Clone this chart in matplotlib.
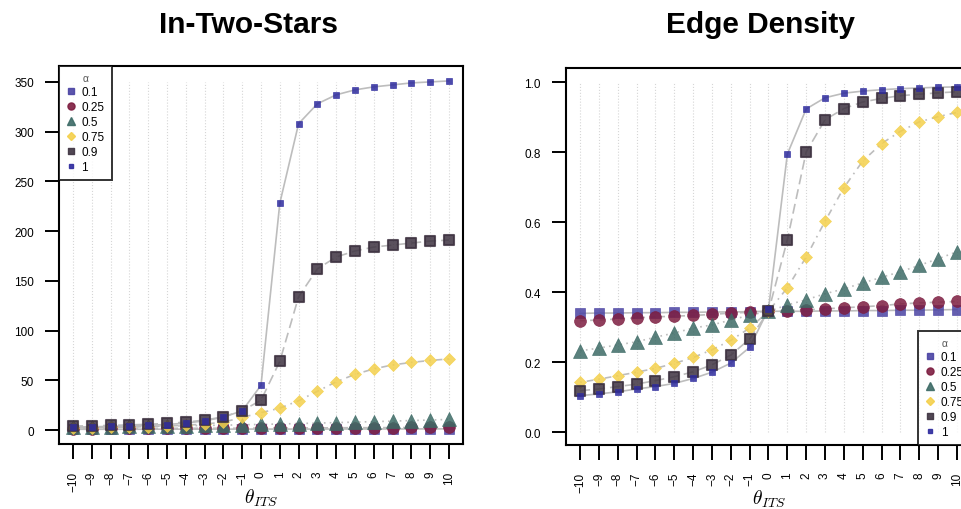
import matplotlib.pyplot as plt
from matplotlib.lines import Line2D
from matplotlib.markers import MarkerStyle

plt.rcParams['font.family'] = ['Liberation Sans', 'DejaVu Sans']
plt.rcParams['mathtext.fontset'] = 'cm'

# theta values and alpha levels
theta = [-10, -9, -8, -7, -6, -5, -4, -3, -2, -1, 0, 1, 2, 3, 4, 5, 6, 7, 8, 9, 10]
alpha_labels = ["0.1", "0.25", "0.5", "0.75", "0.9", "1"]

# In-Two-Stars, one list per alpha
its_a01 = [0.8, 0.8, 0.8, 0.8, 0.9, 0.9, 0.9, 0.9, 0.9, 1.0, 1.0, 1.0, 1.0, 1.0, 1.1, 1.1, 1.1, 1.1, 1.1, 1.2, 1.2]
its_a025 = [1.5, 1.5, 1.6, 1.6, 1.7, 1.7, 1.8, 1.8, 1.9, 1.9, 2.0, 2.1, 2.1, 2.2, 2.3, 2.4, 2.4, 2.5, 2.6, 2.7, 2.8]
its_a05 = [3.0, 3.2, 3.4, 3.6, 3.8, 4.0, 4.3, 4.6, 4.9, 5.3, 5.7, 6.1, 6.6, 7.0, 7.5, 8.0, 8.5, 9.0, 9.6, 10.1, 10.7]
its_a075 = [2.0, 2.3, 2.6, 3.0, 3.5, 4.1, 4.9, 6.0, 8.0, 12.7, 17.5, 22.0, 29.5, 39.0, 48.5, 56.0, 61.5, 65.5, 68.0, 70.0, 71.5]
its_a09 = [4.0, 4.3, 4.7, 5.2, 5.8, 6.7, 8.0, 10.0, 13.3, 19.5, 30.0, 69.0, 134.0, 162.0, 174.0, 180.0, 184.0, 186.0, 188.0, 190.0, 191.0]
its_a1 = [3.0, 3.3, 3.7, 4.2, 4.8, 5.6, 7.0, 9.3, 13.0, 19.4, 45.0, 228.0, 308.0, 328.0, 337.0, 342.0, 345.0, 347.0, 349.0, 350.0, 351.0]

# Edge density, one list per alpha
ed_a01 = [0.339, 0.340, 0.340, 0.341, 0.341, 0.342, 0.342, 0.343, 0.343, 0.344, 0.345, 0.345, 0.345, 0.346, 0.346, 0.347, 0.347, 0.348, 0.348, 0.349, 0.350]
ed_a025 = [0.318, 0.320, 0.323, 0.326, 0.329, 0.331, 0.333, 0.336, 0.340, 0.342, 0.345, 0.347, 0.349, 0.352, 0.355, 0.358, 0.361, 0.366, 0.369, 0.371, 0.373]
ed_a05 = [0.232, 0.240, 0.249, 0.258, 0.271, 0.283, 0.297, 0.306, 0.320, 0.334, 0.345, 0.363, 0.378, 0.395, 0.409, 0.426, 0.442, 0.458, 0.476, 0.495, 0.515]
ed_a075 = [0.142, 0.151, 0.161, 0.171, 0.182, 0.196, 0.213, 0.235, 0.262, 0.297, 0.345, 0.412, 0.500, 0.602, 0.698, 0.774, 0.824, 0.859, 0.886, 0.901, 0.913]
ed_a09 = [0.118, 0.123, 0.130, 0.137, 0.147, 0.158, 0.172, 0.192, 0.220, 0.266, 0.345, 0.549, 0.800, 0.892, 0.924, 0.943, 0.953, 0.961, 0.965, 0.969, 0.972]
ed_a1 = [0.104, 0.109, 0.115, 0.123, 0.130, 0.139, 0.153, 0.171, 0.197, 0.242, 0.351, 0.794, 0.923, 0.955, 0.968, 0.974, 0.978, 0.981, 0.983, 0.985, 0.986]

its_series = [its_a01, its_a025, its_a05, its_a075, its_a09, its_a1]
ed_series = [ed_a01, ed_a025, ed_a05, ed_a075, ed_a09, ed_a1]

# style per alpha: marker, colour, size, line style
markers = ['s', 'o', '^', 'D', 's', 's']
colors = ['#4A43A3', '#7D1D40', '#3D6B66', '#F4D04C', '#3E3341', '#2E2B9E']
msizes = [7.5, 8.5, 10, 6.5, 7.5, 4.5]
linestyles = ['-', (0, (3, 3)), (0, (1, 2.5)), (0, (1, 3, 4, 3)), (0, (6, 3)), '-']
line_color = '#BDBDBD'


def marker_for(i):
    return MarkerStyle(markers[i], joinstyle='round') if i == 4 else markers[i]


def draw_panel(ax, series, yticks, ylim, fmt):
    # light dotted vertical guides at each theta
    ax.vlines(theta, yticks[0], yticks[-1], colors='#D6D6D6', linestyles=':', linewidth=0.8, zorder=0)
    for i, ys in enumerate(series):
        ax.plot(theta, ys, color=line_color, linestyle=linestyles[i], linewidth=1.2, zorder=1)
    for i, ys in enumerate(series):
        ax.plot(theta, ys, linestyle='none', marker=marker_for(i), markersize=msizes[i],
                color=colors[i], markeredgecolor=colors[i], markeredgewidth=1.5 if i == 4 else 0.5,
                alpha=0.85, zorder=2 + i)
    ax.set_xlim(-10.75, 10.75)
    ax.set_ylim(*ylim)
    ax.set_xticks(theta)
    ax.set_xticklabels([str(t).replace('-', '\u2212') for t in theta], rotation=90, fontsize=8.5)
    ax.set_yticks(yticks)
    ax.set_yticklabels([fmt.format(v) for v in yticks], fontsize=8.5)
    ax.tick_params(axis='x', length=11, width=1.4, pad=8)
    ax.tick_params(axis='y', length=10, width=1.4, pad=8)
    for sp in ax.spines.values():
        sp.set_linewidth(1.5)
    ax.set_xlabel(r'$\theta_{ITS}$', fontsize=14, labelpad=-3)


def add_legend(ax, loc, anchor):
    handles = [Line2D([], [], linestyle='none', marker=marker_for(i), markersize=msizes[i] * 0.6,
                      color=colors[i], markeredgecolor=colors[i], alpha=0.9)
               for i in range(len(alpha_labels))]
    leg = ax.legend(handles, alpha_labels, loc=loc, bbox_to_anchor=anchor, borderaxespad=0,
                    title='\u03b1', title_fontsize=7.5, fontsize=8.5, frameon=True, fancybox=False,
                    handlelength=0.8, handletextpad=0.5, borderpad=0.6, labelspacing=0.25)
    leg.get_frame().set_edgecolor('black')
    leg.get_frame().set_linewidth(1.4)
    leg.get_title().set_color('#555555')
    leg.set_zorder(10)


fig = plt.figure(figsize=(9.62, 5.10), dpi=100)
ax1 = fig.add_axes([59 / 962, 65 / 510, 404 / 962, 378 / 510])
ax2 = fig.add_axes([566 / 962, 64 / 510, 405 / 962, 377 / 510])

draw_panel(ax1, its_series, [0, 50, 100, 150, 200, 250, 300, 350], (-14, 366), '{:d}')
draw_panel(ax2, ed_series, [0.0, 0.2, 0.4, 0.6, 0.8, 1.0], (-0.037, 1.04), '{:.1f}')
add_legend(ax1, 'upper left', (0, 1))
add_legend(ax2, 'lower right', (1, 0))

fig.text(249 / 962, 1 - 33 / 510, 'In-Two-Stars', ha='center', va='baseline', fontsize=21.5, fontweight='bold')
fig.text(760 / 962, 1 - 33 / 510, 'Edge Density', ha='center', va='baseline', fontsize=21.5, fontweight='bold')

fig.savefig('out.png', dpi=100)
